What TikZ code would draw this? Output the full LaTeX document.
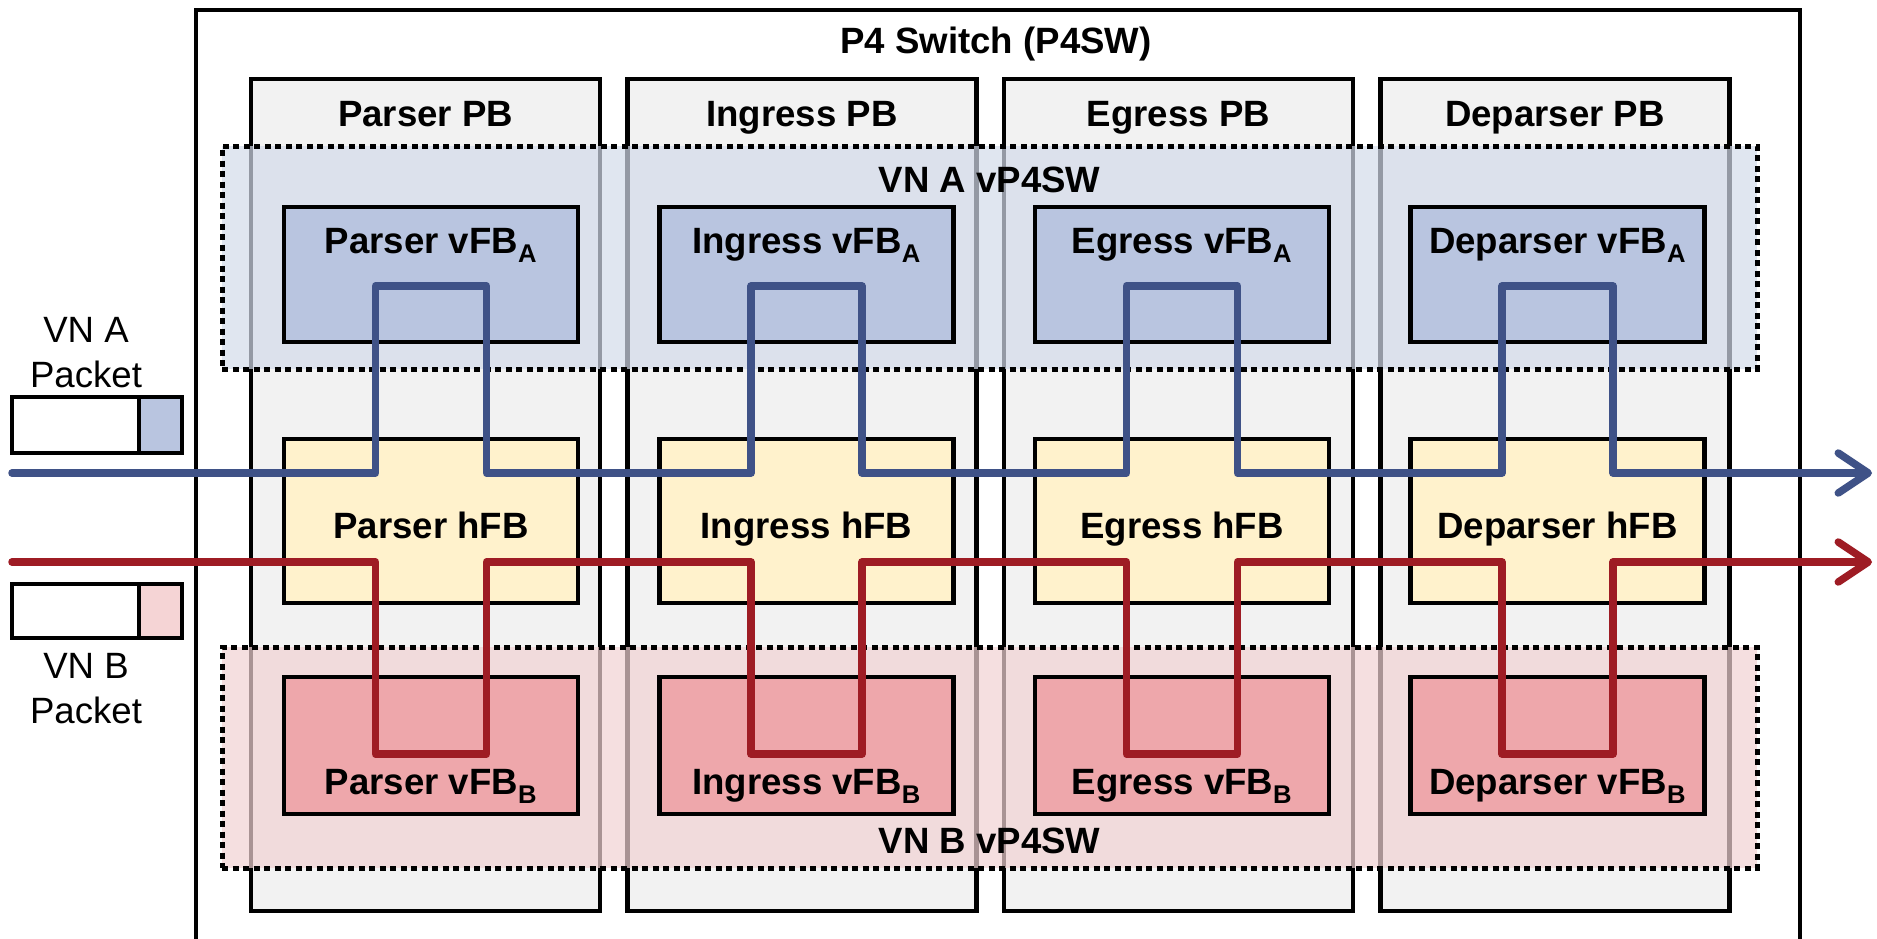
\documentclass[tikz,border=0pt]{standalone}
\usepackage{fontspec}
\setmainfont{Liberation Sans}
\usetikzlibrary{arrows.meta,calc}
\definecolor{pbfill}{HTML}{F2F2F2}
\definecolor{vafill}{HTML}{B9C5E0}
\definecolor{vbfill}{HTML}{EEA7AB}
\definecolor{hfill}{HTML}{FFF2CC}
\definecolor{pkbfill}{HTML}{F5D4D5}
\definecolor{aregion}{RGB}{211,219,234}
\definecolor{bregion}{RGB}{241,210,211}
\definecolor{bluel}{HTML}{3F5287}
\definecolor{redl}{HTML}{9E1C24}
\begin{document}
\begin{tikzpicture}[x=1pt,y=-1pt,
  lbl/.style={font=\bfseries\fontsize{36.6}{40}\selectfont, inner sep=0, anchor=base},
  plain/.style={font=\fontsize{36.6}{40}\selectfont, inner sep=0, anchor=base},
  pbbox/.style={draw, line width=4.5, fill=pbfill, minimum width=349, minimum height=832, inner sep=0},
  vabox/.style={draw, line width=4.5, fill=vafill, minimum width=294, minimum height=135, inner sep=0},
  hbox/.style={draw, line width=4.5, fill=hfill, minimum width=294, minimum height=164, inner sep=0},
  vbbox/.style={draw, line width=4.5, fill=vbfill, minimum width=294, minimum height=137, inner sep=0},
  region/.style={draw, line width=5, dash pattern=on 6pt off 4.5pt, fill opacity=0.7, minimum width=1535, inner sep=0},
  flow/.style={line width=7.5, line join=round, line cap=round, -{Straight Barb[length=30pt,width=40pt,round]}},
  pkt/.style={draw, line width=4, inner sep=0},
]
\useasboundingbox (0,0) rectangle (1877,938);
\node[draw, line width=4, minimum width=1604, minimum height=950, inner sep=0, anchor=north west] (sw) at (194,8) {};
\node[lbl] (title) at (996,53) {P4 Switch (P4SW)};

\foreach \i/\nm in {0/Parser,1/Ingress,2/Egress,3/Deparser}{
  \pgfmathsetmacro{\px}{425.5+376.5*\i}
  \node[pbbox] (pb\i) at (\px,495) {};
  \node[lbl] (pbt\i) at (\px,126) {\nm\ PB};
}

\node[region, fill=aregion, minimum height=223] (ra) at (989.5,257.5) {};
\node[lbl] (rat) at (989.5,192) {VN A vP4SW};
\node[region, fill=bregion, minimum height=221] (rb) at (989.5,757.5) {};
\node[lbl] (rbt) at (989.5,853) {VN B vP4SW};

\foreach \i/\nm in {0/Parser,1/Ingress,2/Egress,3/Deparser}{
  \pgfmathsetmacro{\fx}{431+375.5*\i}
  \node[vabox] (va\i) at (\fx,274.5) {};
  \node[lbl] (vat\i) at (\fx,253) {\nm\ vFB\textsubscript{A}};
  \node[hbox] (h\i) at (\fx,521) {};
  \node[lbl] (ht\i) at (\fx,538) {\nm\ hFB};
  \node[vbbox] (vb\i) at (\fx,745.5) {};
  \node[lbl] (vbt\i) at (\fx,794) {\nm\ vFB\textsubscript{B}};
  \coordinate (al\i) at ($(va\i.center)+(-55.5,11.5)$);
  \coordinate (ar\i) at ($(va\i.center)+(55.5,11.5)$);
  \coordinate (bl\i) at ($(vb\i.center)+(-55.5,8.5)$);
  \coordinate (br\i) at ($(vb\i.center)+(55.5,8.5)$);
}

% packets
\node[pkt, fill=white, minimum width=170, minimum height=56] (pka) at (97,425) {};
\node[pkt, fill=vafill, minimum width=43, minimum height=56] (pkac) at (160.5,425) {};
\node[plain] (pkat1) at (86,342) {VN A};
\node[plain] (pkat2) at (86,387) {Packet};
\node[pkt, fill=white, minimum width=170, minimum height=54] (pkb) at (97,611) {};
\node[pkt, fill=pkbfill, minimum width=43, minimum height=54] (pkbc) at (160.5,611) {};
\node[plain] (pkbt1) at (86,678) {VN B};
\node[plain] (pkbt2) at (86,723) {Packet};

% flows
\coordinate (ain) at (12,473);
\coordinate (aout) at (1872,473);
\coordinate (bin) at (12,562);
\coordinate (bout) at (1872,562);
\draw[flow, draw=bluel] (ain) -| (al0) -- (ar0) |- (ain -| al1) -- (al1) -- (ar1) |- (ain -| al2) -- (al2) -- (ar2) |- (ain -| al3) -- (al3) -- (ar3) |- (aout);
\draw[flow, draw=redl] (bin) -| (bl0) -- (br0) |- (bin -| bl1) -- (bl1) -- (br1) |- (bin -| bl2) -- (bl2) -- (br2) |- (bin -| bl3) -- (bl3) -- (br3) |- (bout);
\end{tikzpicture}
\end{document}
